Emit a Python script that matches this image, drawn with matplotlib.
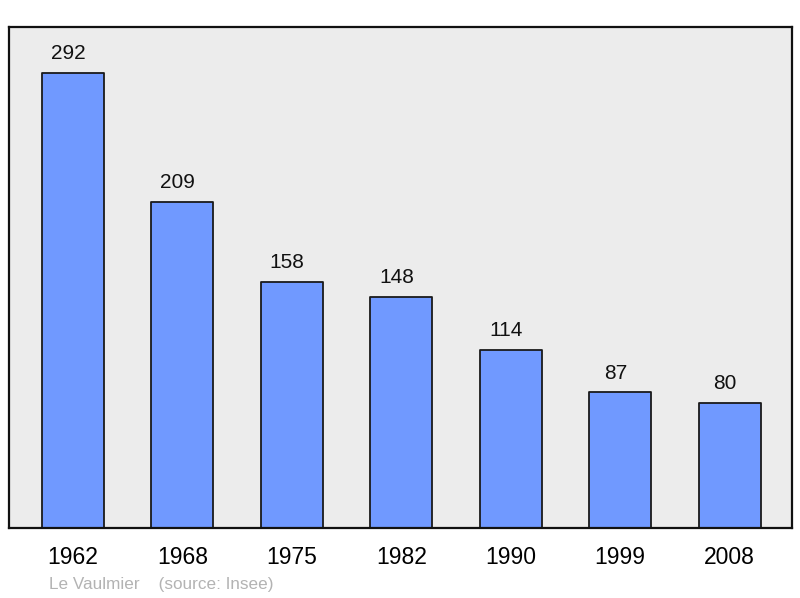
import matplotlib
matplotlib.use("Agg")
import matplotlib.pyplot as plt

years = ["1962", "1968", "1975", "1982", "1990", "1999", "2008"]
population = [292, 209, 158, 148, 114, 87, 80]

plt.rcParams['font.family'] = ['Liberation Sans', 'DejaVu Sans']

fig = plt.figure(figsize=(8, 5.98), dpi=100)
ax = fig.add_axes([9/800, 70/598, 783/800, 501/598])
ax.set_facecolor('#ececec')

x = list(range(len(years)))
bars = ax.bar(x, population, width=0.567, color='#7099ff', edgecolor='#1a1a1a',
              linewidth=1.3, joinstyle='round', zorder=2)
for xi, v in zip(x, population):
    ax.annotate(str(v), (xi, v), xytext=(-3.5, 10), textcoords='offset points',
                ha='center', va='baseline', fontsize=15, color='#111111')

ax.set_xlim(-0.585, 6.57)
ax.set_ylim(0, 321.5)
ax.set_xticks(x)
ax.set_xticklabels(years, fontsize=16.5)
ax.tick_params(axis='x', length=0, pad=13)
ax.set_yticks([])
for s in ax.spines.values():
    s.set_linewidth(1.6)
    s.set_color('#111111')

fig.text(49/800, 1 - 584/598, "Le Vaulmier    (source: Insee)", fontsize=12.3,
         color='#b3b3b3', va='center', ha='left')

fig.savefig("out.png", dpi=100, facecolor='white')
